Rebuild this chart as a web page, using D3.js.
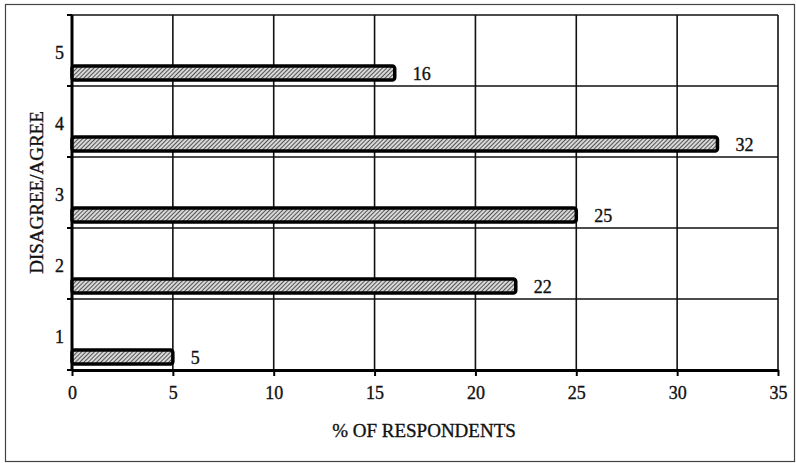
<!DOCTYPE html>
<html><head><meta charset="utf-8">
<script src="https://cdn.jsdelivr.net/npm/d3@7"></script>
<style>body{margin:0;background:#fff}svg{display:block}text{font-family:"Liberation Serif","Times New Roman",serif;fill:#111;stroke:#111;stroke-width:0.35px}</style>
</head><body>
<script>
const categories = ["1","2","3","4","5"];
const values = [5,22,25,32,16];
const xTicks = [0,5,10,15,20,25,30,35];
const xTitle = "% OF RESPONDENTS";
const yTitle = "DISAGREE/AGREE";

(function(){
const W=796,H=463;
const svg=d3.select("body").append("svg").attr("width",W).attr("height",H);
const defs=svg.append("defs");
const pat=defs.append("pattern").attr("id","hatch").attr("patternUnits","userSpaceOnUse")
  .attr("width",3).attr("height",3).attr("patternTransform","rotate(45)");
pat.append("rect").attr("width",3).attr("height",3).attr("fill","#d8d8d8");
pat.append("line").attr("x1",0).attr("y1",0).attr("x2",0).attr("y2",3).attr("stroke","#1a1a1a").attr("stroke-width",1.4);

// outer frame
svg.append("rect").attr("x",5.5).attr("y",4.5).attr("width",W-7).attr("height",H-6)
  .attr("fill","none").attr("stroke","#444").attr("stroke-width",1.2);

const pL=72,pR=778,pT=15,pB=370;
const x=d3.scaleLinear().domain([0,35]).range([pL,pR]);
const y=d3.scaleBand().domain(categories.slice().reverse()).range([pT,pB]).padding(0);

// grid
const g=svg.append("g");
g.selectAll(".vg").data(xTicks.slice(1)).join("line")
  .attr("x1",d=>x(d)).attr("x2",d=>x(d)).attr("y1",pT).attr("y2",pB)
  .attr("stroke","#111").attr("stroke-width",1.6);
const bounds=categories.map(c=>y(c)).concat([pB]);
g.selectAll(".hg").data(bounds).join("line")
  .attr("x1",pL).attr("x2",pR).attr("y1",d=>d).attr("y2",d=>d)
  .attr("stroke","#111").attr("stroke-width",1.6);

// axes
const xAxis=d3.axisBottom(x).tickValues(xTicks).tickSize(6).tickSizeOuter(0);
const xa=svg.append("g").attr("transform",`translate(0,${pB})`).call(xAxis);
xa.select(".domain").attr("stroke","#000").attr("stroke-width",3);
xa.selectAll(".tick line").attr("stroke","#000").attr("stroke-width",2);
xa.selectAll(".tick text").attr("y",29).attr("dy",0).style("font-size","18px")
  .style("font-family","Liberation Serif").attr("fill","#111");

const ya=svg.append("g").attr("transform",`translate(${pL},0)`);
ya.append("line").attr("x1",0).attr("x2",0).attr("y1",pT).attr("y2",pB).attr("stroke","#000").attr("stroke-width",3);
ya.selectAll(".yt").data(bounds).join("line").attr("x1",-5).attr("x2",0).attr("y1",d=>d).attr("y2",d=>d).attr("stroke","#000").attr("stroke-width",2);
ya.selectAll(".yl").data(categories).join("text")
  .attr("x",-8).attr("y",d=>y(d)+y.bandwidth()/2+8).attr("text-anchor","end")
  .style("font-size","18px").text(d=>d);

// bars
const bh=14;
const bars=svg.append("g");
categories.forEach((c,i)=>{
  const by=y(c)+y.bandwidth()-bh-6;
  bars.append("rect").attr("x",x(0)).attr("y",by).attr("width",x(values[i])-x(0)).attr("height",bh)
    .attr("rx",2.5).attr("fill","url(#hatch)").attr("stroke","#000").attr("stroke-width",3.5);
  bars.append("text").attr("x",x(values[i])+18).attr("y",by+bh-0.5)
    .style("font-size","18px").text(values[i]);
});

// titles
svg.append("text").attr("x",424).attr("y",437).attr("text-anchor","middle")
  .style("font-size","19px").text(xTitle);
svg.append("text").attr("transform",`translate(43,${(pT+pB)/2}) rotate(-90)`).attr("text-anchor","middle")
  .style("font-size","19px").text(yTitle);
})();
</script>
</body></html>
